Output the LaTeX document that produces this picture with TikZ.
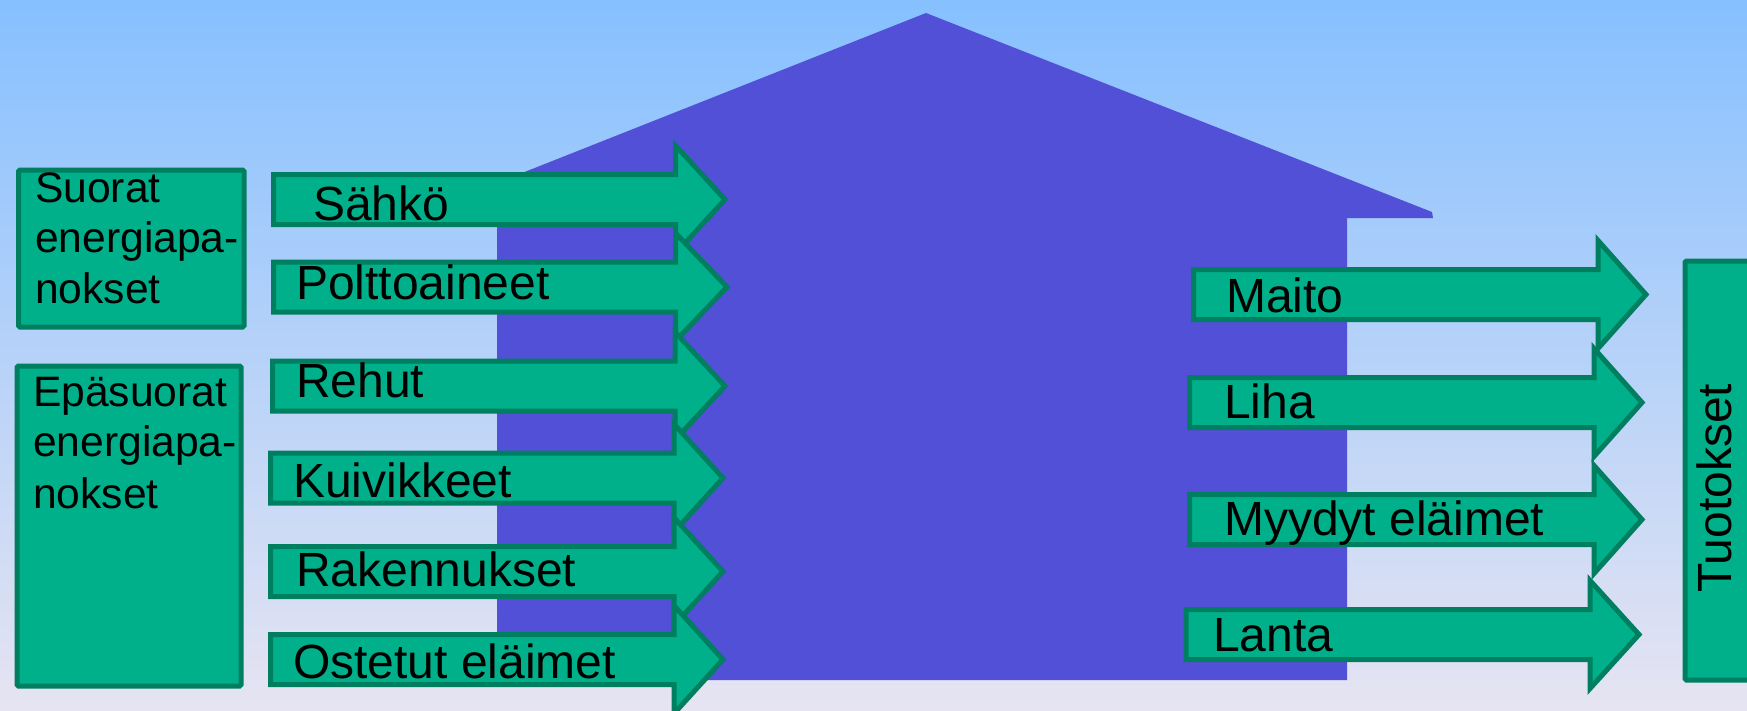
\documentclass[tikz,border=0pt]{standalone}
\usepackage{fontspec}
\setmainfont{Liberation Sans}
\definecolor{bgtop}{RGB}{134,192,255}
\definecolor{bgbot}{RGB}{230,228,242}
\definecolor{house}{RGB}{82,80,214}
\definecolor{tealfill}{RGB}{0,176,138}
\definecolor{tealline}{RGB}{0,126,96}
\tikzset{
  arrowsty/.style={fill=tealfill,draw=tealline,line width=5pt,miter limit=10},
  boxsty/.style={fill=tealfill,draw=tealline,line width=5pt,rounded corners=1.5pt},
  lbl/.style={anchor=base west,inner sep=0pt,font=\fontsize{48}{56}\selectfont},
  boxlbl/.style={anchor=base west,inner sep=0pt,font=\fontsize{42.6}{50}\selectfont},
}
\newcommand{\myarrow}[5]{%
  \path[arrowsty] ({#1},{#2-25}) -- ({#3},{#2-25}) -- ({#3},{#2-54}) -- ({#4},{#2}) -- ({#3},{#2+54}) -- ({#3},{#2+25}) -- ({#1},{#2+25}) -- cycle;
  \coordinate (#5) at ({#1},{#2});
}
\begin{document}
\begin{tikzpicture}[x=1pt,y=-1pt]
\useasboundingbox (0,0) rectangle (1747,710);
\clip (0,0) rectangle (1747,710);
\shade[top color=bgtop,bottom color=bgbot] (0,0) rectangle (1747,710);
% house
\fill[house] (926,13) -- (1432,212) -- (1433,218) -- (1347,218) -- (1347,680) -- (497,680) -- (497,218) -- (421,213) -- cycle;
% boxes
\node[boxsty,minimum width=225.5pt,minimum height=157pt,anchor=north west] (suorat) at (16,167.5) {};
\node[boxsty,minimum width=224pt,minimum height=320pt,anchor=north west] (epasuorat) at (14.5,363.5) {};
\node[boxsty,minimum width=80pt,minimum height=419pt,anchor=north west] (tuotokset) at (1682.5,258.5) {};
\node[boxlbl] (s1) at (35,202) {Suorat};
\node[boxlbl] (s2) at (35,252) {energiapa-};
\node[boxlbl] (s3) at (35,303) {nokset};
\node[boxlbl] (e1) at (33,406) {Epäsuorat};
\node[boxlbl] (e2) at (33,456) {energiapa-};
\node[boxlbl] (e3) at (33,508) {nokset};
\node[lbl,rotate=90] (t1) at (1731,593) {Tuotokset};
% input arrows
\myarrow{273.5}{199.5}{675.5}{725}{a1}
\node[lbl] (l1) at (313,220) {Sähkö};
\myarrow{273.5}{287}{675.5}{727}{a2}
\node[lbl] (l2) at (296,299) {Polttoaineet};
\myarrow{272.5}{386}{675}{725}{a3}
\node[lbl] (l3) at (296,397) {Rehut};
\myarrow{270.5}{478}{674}{723}{a4}
\node[lbl] (l4) at (293,497) {Kuivikkeet};
\myarrow{270.5}{571.5}{674}{723}{a5}
\node[lbl] (l5) at (296,586) {Rakennukset};
\myarrow{270.5}{659.5}{674}{723}{a6}
\node[lbl] (l6) at (293,678) {Ostetut eläimet};
% output arrows
\myarrow{1193.5}{294.5}{1598}{1646}{b1}
\node[lbl] (r1) at (1226,312) {Maito};
\myarrow{1189.5}{402.5}{1594}{1642}{b2}
\node[lbl] (r2) at (1224,418) {Liha};
\myarrow{1189.5}{519.5}{1594}{1642}{b3}
\node[lbl] (r3) at (1224,535) {Myydyt eläimet};
\myarrow{1186}{634.5}{1590}{1639}{b4}
\node[lbl] (r4) at (1213,651) {Lanta};
\end{tikzpicture}
\end{document}
